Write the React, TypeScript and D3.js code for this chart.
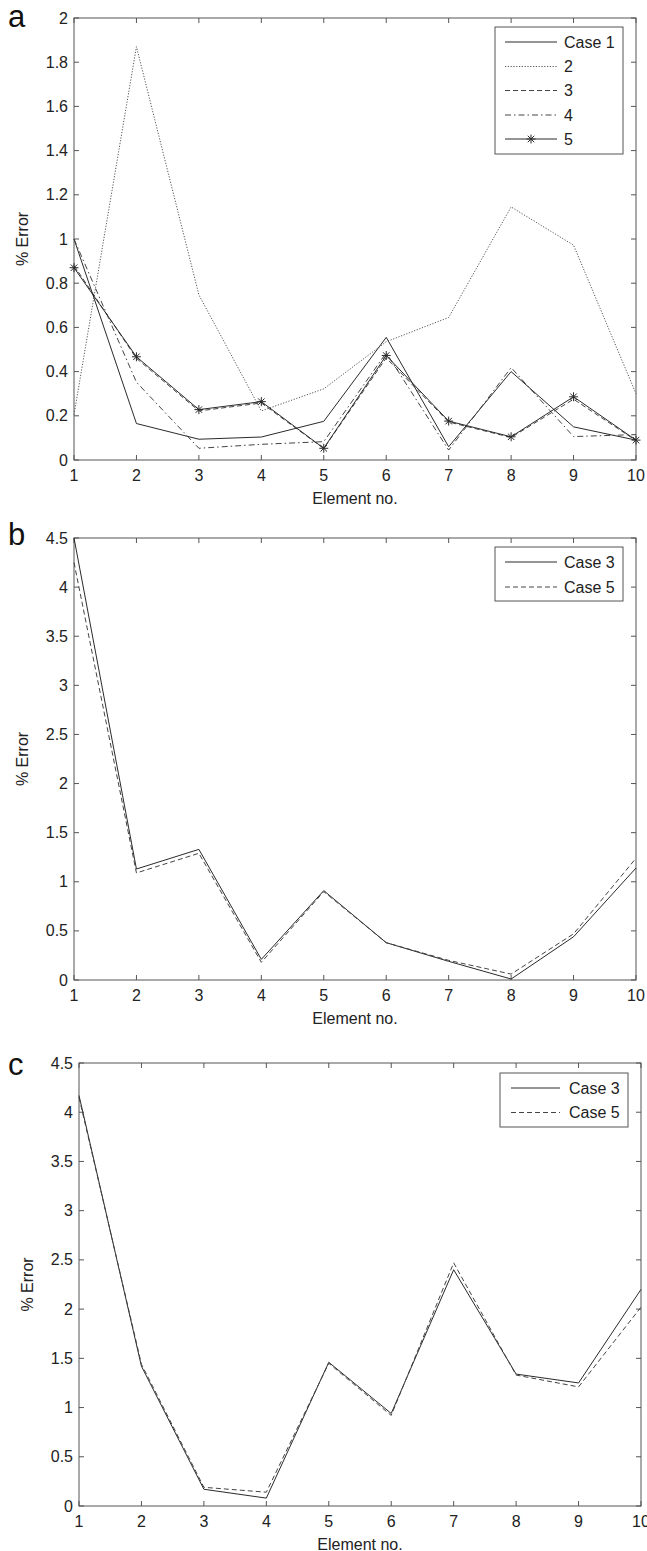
import React from "react";
import * as d3 from "d3";

const elements = [1, 2, 3, 4, 5, 6, 7, 8, 9, 10];

// Panel a
const aCase1 = [1.0, 0.165, 0.094, 0.104, 0.175, 0.555, 0.06, 0.4, 0.15, 0.09];
const aCase2 = [0.205, 1.87, 0.747, 0.222, 0.322, 0.535, 0.645, 1.145, 0.972, 0.3];
const aCase3 = [0.88, 0.46, 0.222, 0.258, 0.052, 0.462, 0.172, 0.102, 0.275, 0.088];
const aCase4 = [1.0, 0.352, 0.053, 0.071, 0.083, 0.485, 0.045, 0.418, 0.106, 0.115];
const aCase5 = [0.87, 0.467, 0.228, 0.264, 0.053, 0.473, 0.176, 0.105, 0.286, 0.09];
const aLabels = ["Case 1", "2", "3", "4", "5"];
const aTicks = [0, 0.2, 0.4, 0.6, 0.8, 1, 1.2, 1.4, 1.6, 1.8, 2];

// Panel b
const bCase3 = [4.5, 1.13, 1.33, 0.21, 0.91, 0.38, 0.19, 0.01, 0.44, 1.14];
const bCase5 = [4.25, 1.09, 1.29, 0.18, 0.9, 0.38, 0.2, 0.06, 0.47, 1.24];
// Panel c
const cCase3 = [4.17, 1.42, 0.17, 0.08, 1.46, 0.94, 2.4, 1.34, 1.25, 2.2];
const cCase5 = [4.15, 1.44, 0.19, 0.14, 1.45, 0.92, 2.47, 1.33, 1.21, 2.02];
const bcLabels = ["Case 3", "Case 5"];
const bcTicks = [0, 0.5, 1, 1.5, 2, 2.5, 3, 3.5, 4, 4.5];

const FONT = "'Liberation Sans', Arial, Helvetica, sans-serif";
const AX = "#555";
const LN = "#2a2a2a";
const FS = 16;

type Style = { dash?: string; star?: boolean; color?: string };

const STYLES: Record<string, Style> = {
  solid: {},
  dotted: { dash: "1.2,1.6", color: "#555" },
  dashed: { dash: "5,3", color: "#444" },
  dashdot: { dash: "6,3,1.5,3", color: "#444" },
  star: { star: true },
};

type Series = { values: number[]; style: Style };

function Star({ x, y, r = 4.5 }: { x: number; y: number; r?: number }) {
  const d = r * 0.72;
  return (
    <g stroke={LN} strokeWidth={1}>
      <line x1={x - r} y1={y} x2={x + r} y2={y} />
      <line x1={x} y1={y - r} x2={x} y2={y + r} />
      <line x1={x - d} y1={y - d} x2={x + d} y2={y + d} />
      <line x1={x - d} y1={y + d} x2={x + d} y2={y - d} />
    </g>
  );
}

function Panel(props: {
  letter: string;
  letterY: number;
  left: number;
  right: number;
  top: number;
  bottom: number;
  yMax: number;
  yTicks: number[];
  series: Series[];
  labels: string[];
  legend: { x0: number; x1: number; y0: number; y1: number; lineX0: number; lineX1: number; textX: number; rowY: number[] };
}) {
  const { left, right, top, bottom, yMax, yTicks, series, labels, legend } = props;
  const x = d3.scaleLinear().domain([1, 10]).range([left, right]);
  const y = d3.scaleLinear().domain([0, yMax]).range([bottom, top]);
  const line = d3
    .line<number>()
    .x((_, i) => x(elements[i]))
    .y((v) => y(v));
  const tl = 5;
  const midY = (top + bottom) / 2;
  const midX = (left + right) / 2;
  return (
    <g fontFamily={FONT}>
      <text x={8} y={props.letterY} fontSize={31} fill="#111">
        {props.letter}
      </text>
      <rect x={left} y={top} width={right - left} height={bottom - top} fill="none" stroke={AX} strokeWidth={1} />
      {elements.map((e) => (
        <g key={"xt" + e}>
          <line x1={x(e)} x2={x(e)} y1={bottom} y2={bottom - tl} stroke={AX} />
          <line x1={x(e)} x2={x(e)} y1={top} y2={top + tl} stroke={AX} />
          <text x={x(e)} y={bottom + 15} fontSize={FS} textAnchor="middle" dominantBaseline="central" fill="#222">
            {e}
          </text>
        </g>
      ))}
      {yTicks.map((t) => (
        <g key={"yt" + t}>
          <line x1={left} x2={left + tl} y1={y(t)} y2={y(t)} stroke={AX} />
          <line x1={right} x2={right - tl} y1={y(t)} y2={y(t)} stroke={AX} />
          <text x={left - 6} y={y(t)} fontSize={FS} textAnchor="end" dominantBaseline="central" fill="#222">
            {String(t)}
          </text>
        </g>
      ))}
      <text x={midX} y={bottom + 38} fontSize={FS} textAnchor="middle" dominantBaseline="central" fill="#222">
        Element no.
      </text>
      <text
        transform={`translate(${left - 52},${midY}) rotate(-90)`}
        fontSize={FS}
        textAnchor="middle"
        dominantBaseline="central"
        fill="#222"
      >
        % Error
      </text>
      {series.map((s, i) => (
        <g key={"s" + i}>
          <path
            d={line(s.values) || ""}
            fill="none"
            stroke={s.style.color || LN}
            strokeWidth={1}
            strokeDasharray={s.style.dash}
          />
          {s.style.star && s.values.map((v, j) => <Star key={j} x={x(elements[j])} y={y(v)} />)}
        </g>
      ))}
      <rect
        x={legend.x0}
        y={legend.y0}
        width={legend.x1 - legend.x0}
        height={legend.y1 - legend.y0}
        fill="#fff"
        stroke={AX}
        strokeWidth={1}
      />
      {series.map((s, i) => (
        <g key={"lg" + i}>
          <line
            x1={legend.lineX0}
            x2={legend.lineX1}
            y1={legend.rowY[i]}
            y2={legend.rowY[i]}
            stroke={s.style.color || LN}
            strokeWidth={1}
            strokeDasharray={s.style.dash}
          />
          {s.style.star && <Star x={(legend.lineX0 + legend.lineX1) / 2} y={legend.rowY[i]} />}
          <text x={legend.textX} y={legend.rowY[i]} fontSize={FS} dominantBaseline="central" fill="#222">
            {labels[i]}
          </text>
        </g>
      ))}
    </g>
  );
}

export default function App() {
  return (
    <svg width={647} height={1551} style={{ position: "absolute", left: 0, top: 0, background: "#fff" }}>
      <rect x={0} y={0} width={647} height={1551} fill="#fff" />
      <Panel
        letter="a"
        letterY={27}
        left={74}
        right={636}
        top={18}
        bottom={460}
        yMax={2}
        yTicks={aTicks}
        series={[
          { values: aCase1, style: STYLES.solid },
          { values: aCase2, style: STYLES.dotted },
          { values: aCase3, style: STYLES.dashed },
          { values: aCase4, style: STYLES.dashdot },
          { values: aCase5, style: STYLES.star },
        ]}
        labels={aLabels}
        legend={{ x0: 495, x1: 623, y0: 27, y1: 154, lineX0: 505, lineX1: 557, textX: 564, rowY: [42, 66.5, 90.5, 115, 139] }}
      />
      <Panel
        letter="b"
        letterY={545}
        left={74}
        right={636}
        top={538}
        bottom={980}
        yMax={4.5}
        yTicks={bcTicks}
        series={[
          { values: bCase3, style: STYLES.solid },
          { values: bCase5, style: STYLES.dashed },
        ]}
        labels={bcLabels}
        legend={{ x0: 495, x1: 623, y0: 547, y1: 601, lineX0: 505, lineX1: 557, textX: 564, rowY: [562, 587] }}
      />
      <Panel
        letter="c"
        letterY={1075}
        left={79}
        right={641}
        top={1063}
        bottom={1506}
        yMax={4.5}
        yTicks={bcTicks}
        series={[
          { values: cCase3, style: STYLES.solid },
          { values: cCase5, style: STYLES.dashed },
        ]}
        labels={bcLabels}
        legend={{ x0: 500, x1: 628, y0: 1073, y1: 1127, lineX0: 511, lineX1: 560, textX: 569, rowY: [1088, 1112.5] }}
      />
    </svg>
  );
}
